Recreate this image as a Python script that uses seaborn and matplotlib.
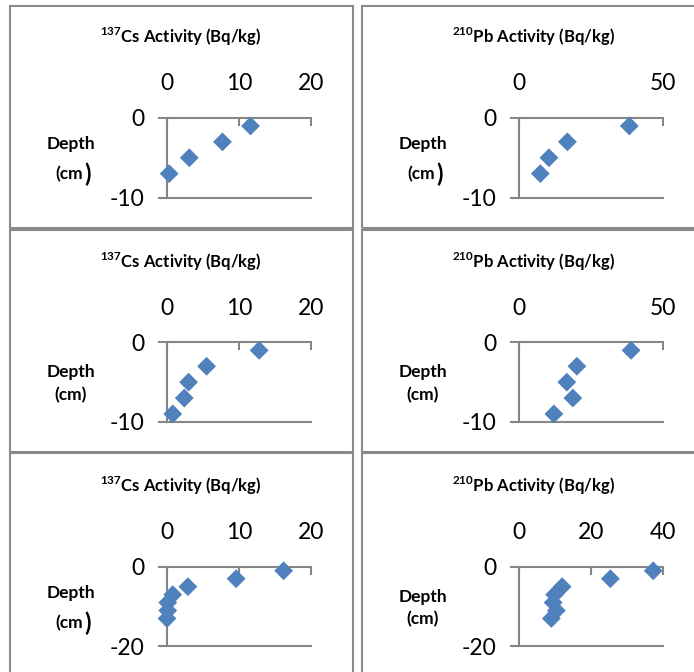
import matplotlib
matplotlib.use("Agg")
import matplotlib.pyplot as plt
from matplotlib.patches import Rectangle
import seaborn as sns
import pandas as pd

# Depth profiles of fallout radionuclides in three sediment cores
depth_core1 = [-1, -3, -5, -7]
cs_core1 = [11.6, 7.7, 3.1, 0.3]
pb_core1 = [38.2, 16.7, 10.3, 7.3]

depth_core2 = [-1, -3, -5, -7, -9]
cs_core2 = [12.8, 5.5, 3.0, 2.4, 0.8]
pb_core2 = [38.8, 20.0, 16.5, 18.6, 12.0]

depth_core3 = [-1, -3, -5, -7, -9, -11, -13]
cs_core3 = [16.2, 9.6, 2.9, 0.8, 0.1, 0.1, 0.0]
pb_core3 = [37.2, 25.3, 11.9, 9.8, 9.4, 10.3, 8.9]

cs_title = r"$^{\mathbf{137}}$Cs Activity (Bq/kg)"
pb_title = r"$^{\mathbf{210}}$Pb Activity (Bq/kg)"
depth_label = "Depth"
unit_label = "(cm"

cs_xticks = [0, 10, 20]
pb_xticks_a = [0, 50]
pb_xticks_b = [0, 20, 40]
yticks_a = [-10, 0]
yticks_b = [-20, 0]

sns.set_theme(style="white")
plt.rcParams["font.family"] = ["Lato", "DejaVu Sans"]
plt.rcParams["mathtext.fontset"] = "custom"
plt.rcParams["mathtext.rm"] = "Lato"
plt.rcParams["mathtext.bf"] = "Lato:bold"
plt.rcParams["axes.unicode_minus"] = False

W, H = 694, 672
fig = plt.figure(figsize=(W / 100, H / 100), dpi=100)
fig.patch.set_facecolor("white")

AXIS_GRAY = "#868686"
BORDER_GRAY = "#8a8a8a"
MARKER_BLUE = "#4F81BD"


def fx(x):
    return x / W


def fy(y):
    return 1 - y / H


# chart-area frames
col_left = [(10, 353), (362, 700)]
row_span = [(6, 227.5), (229.5, 451.5), (453.5, 690)]
for (x0, x1) in col_left:
    for (y0, y1) in row_span:
        fig.patches.append(Rectangle((fx(x0), fy(y1)), (x1 - x0) / W, (y1 - y0) / H,
                                     transform=fig.transFigure, fill=False,
                                     edgecolor=BORDER_GRAY, linewidth=1.5))

panels = [
    # (column, row, x values, depths, title, x ticks, y ticks, big paren)
    (0, 0, cs_core1, depth_core1, cs_title, cs_xticks, yticks_a, True),
    (1, 0, pb_core1, depth_core1, pb_title, pb_xticks_a, yticks_a, True),
    (0, 1, cs_core2, depth_core2, cs_title, cs_xticks, yticks_a, False),
    (1, 1, pb_core2, depth_core2, pb_title, pb_xticks_a, yticks_a, False),
    (0, 2, cs_core3, depth_core3, cs_title, cs_xticks, yticks_b, True),
    (1, 2, pb_core3, depth_core3, pb_title, pb_xticks_b, yticks_b, False),
]

ROW_STEP = 224.4
COL_STEP = 352.3

for col, row, xs, depths, title, xt, yt, big_paren in panels:
    ax_left = 167 + col * COL_STEP
    ax_right = 311 + col * COL_STEP
    y_top = 118 + row * ROW_STEP
    y_bot = y_top + 79.5
    ax = fig.add_axes([fx(ax_left), fy(y_bot), (ax_right - ax_left) / W, (y_bot - y_top) / H])
    ax.set_facecolor("none")

    df = pd.DataFrame({"activity": xs, "depth": depths})
    sns.scatterplot(data=df, x="activity", y="depth", ax=ax, marker="D", s=92,
                    color=MARKER_BLUE, edgecolor="none", linewidth=0,
                    legend=False, clip_on=False, zorder=5)

    ax.set_xlim(xt[0], xt[-1])
    ax.set_ylim(yt[0], yt[-1])
    ax.set_xticks(xt)
    ax.set_yticks(yt)
    ax.set_xlabel("")
    ax.set_ylabel("")

    for side in ("top", "left", "bottom"):
        ax.spines[side].set_visible(True)
        ax.spines[side].set_color(AXIS_GRAY)
        ax.spines[side].set_linewidth(1.5)
    ax.spines["right"].set_visible(False)

    ax.xaxis.set_ticks_position("top")
    ax.xaxis.set_label_position("top")
    ax.tick_params(axis="x", which="major", direction="in", length=5.5, width=1.5,
                   color=AXIS_GRAY, labelsize=16.5, pad=17, labelcolor="black",
                   top=True, bottom=False, labeltop=True, labelbottom=False)
    ax.tick_params(axis="y", which="major", direction="out", length=6.5, width=1.5,
                   color=AXIS_GRAY, labelsize=16.5, pad=10, labelcolor="black",
                   left=True, right=False)

    # panel title
    fig.text(fx(181 + col * COL_STEP), fy(37.3 + row * ROW_STEP), title,
             ha="center", va="center", fontsize=12, fontweight="bold", color="black")

    # axis caption
    cx = 70.7 + col * COL_STEP
    if big_paren:
        d_off, u_off = 26, 56
    else:
        d_off, u_off = 30, 52.7
    fig.text(fx(cx), fy(y_top + d_off), depth_label, ha="center", va="center",
             fontsize=12.5, fontweight="bold", color="black")
    if big_paren:
        fig.text(fx(cx + 12.5), fy(y_top + u_off), unit_label, ha="right", va="center",
                 fontsize=12.5, fontweight="bold", color="black")
        fig.text(fx(cx + 13.5), fy(y_top + u_off), ")", ha="left", va="center",
                 fontsize=17, fontweight="bold", color="black")
    else:
        fig.text(fx(cx), fy(y_top + u_off), unit_label + ")", ha="center", va="center",
                 fontsize=12.5, fontweight="bold", color="black")

fig.savefig("out.png", dpi=100)
